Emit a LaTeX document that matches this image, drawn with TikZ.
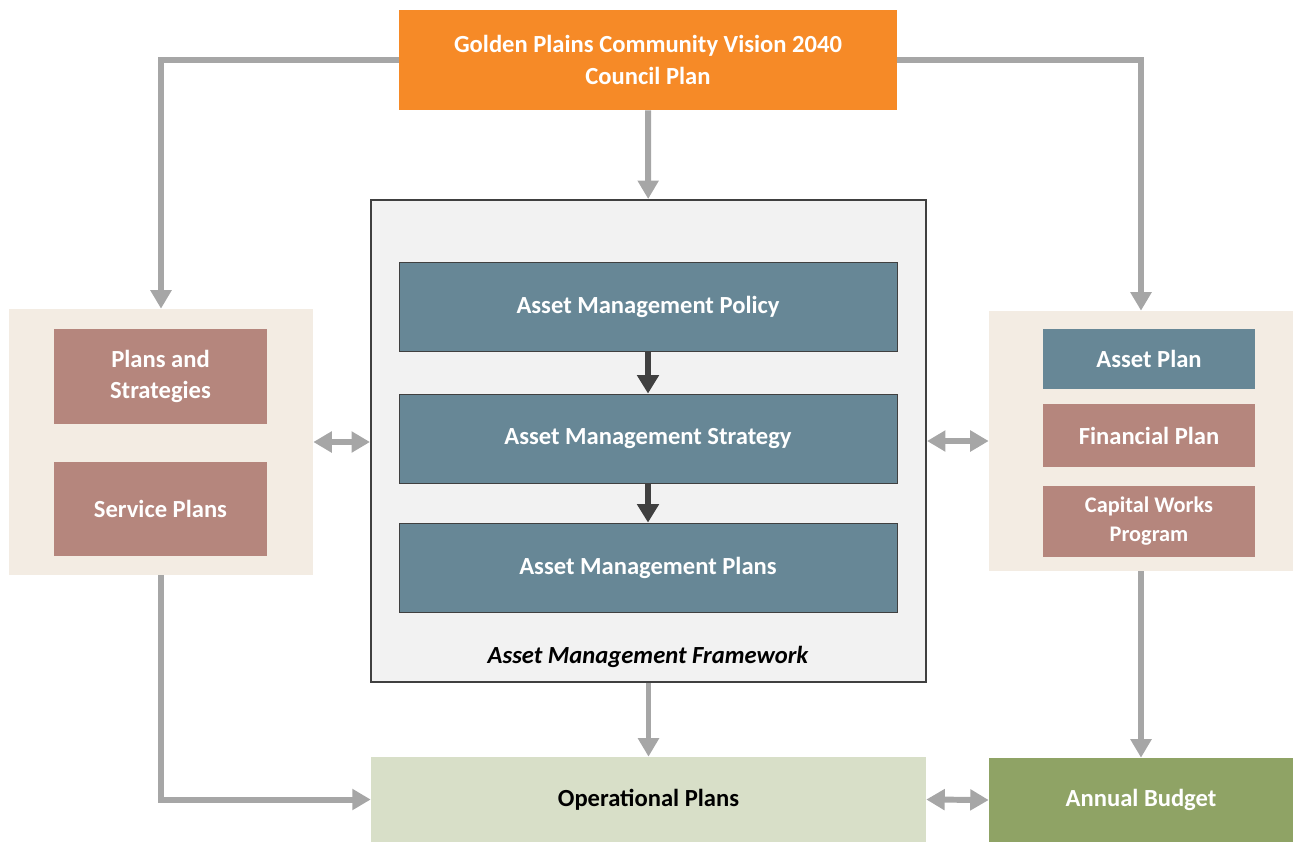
\documentclass[tikz,border=0pt]{standalone}
\usepackage{fontspec}
\setmainfont{Carlito}
\usetikzlibrary{arrows.meta}

\definecolor{visionorange}{HTML}{F68A27}
\definecolor{amblue}{HTML}{678796}
\definecolor{planmauve}{HTML}{B5867D}
\definecolor{panelbeige}{HTML}{F3ECE3}
\definecolor{frameworkgrey}{HTML}{F2F2F2}
\definecolor{opsgreen}{HTML}{D8DFC8}
\definecolor{budgetgreen}{HTML}{8FA365}
\definecolor{linkgrey}{HTML}{A6A6A6}
\definecolor{darklink}{HTML}{404040}

\begin{document}
\begin{tikzpicture}
  [
    x = 0.02cm, y = -0.02cm,
    every node/.style = {font = \fontsize{14}{18}\selectfont\bfseries, align = center, inner sep = 0pt},
    box/.style = {fill = #1, text = white},
    ambox/.style = {box = amblue, draw = darklink, line width = 0.5pt,
                    minimum width = 9.96cm, minimum height = 1.78cm},
    panel/.style = {fill = panelbeige, minimum width = 6.08cm},
    link/.style = {draw = linkgrey, line width = 3.4pt,
                   -{Triangle[length = 10.5pt, width = 11.5pt]}},
    twoway/.style = {link, {Triangle[length = 10.5pt, width = 11.5pt]}-{Triangle[length = 10.5pt, width = 11.5pt]}},
    amlink/.style = {draw = darklink, line width = 3.2pt,
                     -{Triangle[length = 10.5pt, width = 12pt]}}
  ]
  \useasboundingbox (0,0) rectangle (1298,843);

  % top of the chain
  \node [box = visionorange, minimum width = 9.96cm, minimum height = 2cm]
    (Vision) at (648,60) {Golden Plains Community Vision 2040\\Council Plan};

  % framework in the middle
  \node [fill = frameworkgrey, draw = darklink, line width = 1.2pt,
         minimum width = 11.1cm, minimum height = 9.64cm]
    (Framework) at (648.5,441) {};
  \node [ambox] (Policy) at (648,306.5) {Asset Management Policy};
  \node [ambox] (Strategy) at (648,438.5) {Asset Management Strategy};
  \node [ambox] (AMPlans) at (648,567.5) {Asset Management Plans};
  \node [font = \fontsize{14}{18}\selectfont\bfseries\itshape]
    (FrameworkLabel) at (648,657) {Asset Management Framework};

  % left panel
  \node [panel, minimum height = 5.32cm] (LeftPanel) at (161,442) {};
  \node [box = planmauve, minimum width = 4.26cm, minimum height = 1.9cm]
    (PlansStrat) at (160.5,376.5) {Plans and\\Strategies};
  \node [box = planmauve, minimum width = 4.26cm, minimum height = 1.88cm]
    (ServicePlans) at (160.5,509) {Service Plans};

  % right panel
  \node [panel, minimum height = 5.2cm] (RightPanel) at (1141,441) {};
  \node [box = amblue, minimum width = 4.24cm, minimum height = 1.2cm]
    (AssetPlan) at (1149,359) {Asset Plan};
  \node [box = planmauve, minimum width = 4.24cm, minimum height = 1.26cm]
    (FinPlan) at (1149,435.5) {Financial Plan};
  \node [box = planmauve, minimum width = 4.24cm, minimum height = 1.42cm,
         font = \fontsize{12.7}{16.5}\selectfont\bfseries]
    (CapWorks) at (1149,521) {Capital Works\\Program};

  % bottom row
  \node [fill = opsgreen, minimum width = 11.1cm, minimum height = 1.7cm]
    (Ops) at (648.5,799.5) {Operational Plans};
  \node [box = budgetgreen, minimum width = 6.08cm, minimum height = 1.68cm]
    (Budget) at (1141,800) {Annual Budget};

  % connectors
  \draw [link] (Vision) -- (Framework);
  \draw [link] (Vision.west) -| (LeftPanel.north);
  \draw [link] (Vision.east) -| (RightPanel.north);
  \draw [amlink] (Policy) -- (Strategy);
  \draw [amlink] (Strategy) -- (AMPlans);
  \draw [twoway] (LeftPanel.east) -- (LeftPanel.east -| Framework.west);
  \draw [twoway] (RightPanel.west -| Framework.east) -- (RightPanel.west);
  \draw [link] (Framework) -- (Ops);
  \draw [link] (LeftPanel.south) |- (Ops.west);
  \draw [link] (RightPanel) -- (Budget);
  \draw [twoway] (Ops.east) -- (Budget.west);
\end{tikzpicture}
\end{document}
